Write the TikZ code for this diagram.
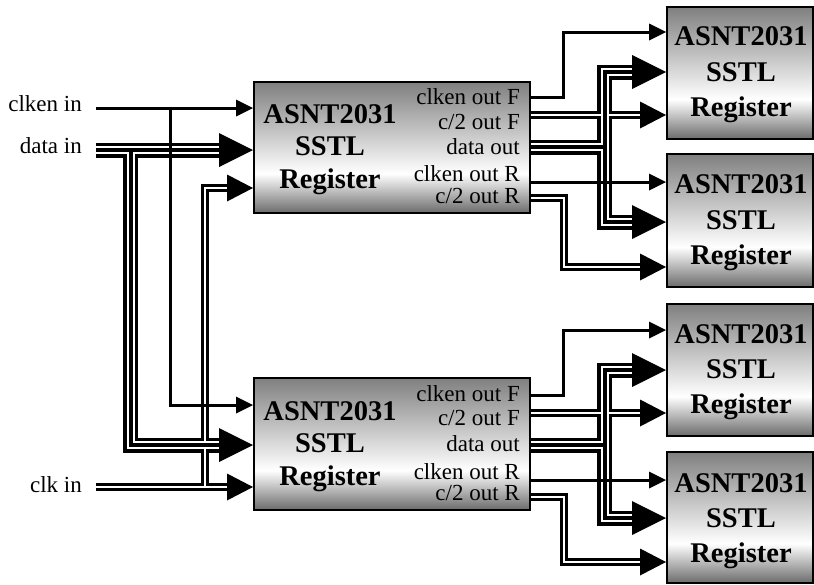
\documentclass[tikz,border=0pt]{standalone}
\usepackage{fontspec}
\setmainfont{Liberation Serif}
\usetikzlibrary{arrows.meta}
\definecolor{shtop}{gray}{0.5}
\definecolor{shbot}{gray}{0.42}
\pgfdeclareverticalshading{blkshade}{100bp}{color(0bp)=(shbot); color(25bp)=(shbot); color(40bp)=(white); color(75bp)=(shtop); color(100bp)=(shtop)}
\pgfdeclarelayer{wl}
\pgfdeclarelayer{cl}
\pgfdeclarelayer{tl}
\pgfsetlayers{main,wl,cl,tl}
\newcommand\tribus[3]{%
  \draw[triB,#1] #3;
  \begin{pgfonlayer}{wl}\draw[triW,#2] #3;\end{pgfonlayer}
  \begin{pgfonlayer}{cl}\draw[triC,#2] #3;\end{pgfonlayer}}
\newcommand\dblbus[3]{%
  \draw[dblB,#1] #3;
  \begin{pgfonlayer}{wl}\draw[dblW,#2] #3;\end{pgfonlayer}}
\newcommand\thinwire[2]{%
  \begin{pgfonlayer}{tl}\draw[thinw,#1] #2;\end{pgfonlayer}}
\begin{document}
\begin{tikzpicture}[x=1pt,y=-1pt,
  blk/.style={draw=black, line width=2pt, shading=blkshade, rectangle, inner sep=0pt},
  ttl/.style={font=\bfseries\fontsize{28.5}{30}\selectfont, anchor=base, inner sep=0pt},
  lbl/.style={font=\fontsize{23}{26}\selectfont, anchor=base east, inner sep=0pt},
  thinw/.style={line width=3pt, line join=miter},
  triB/.style={line width=15pt, line join=miter},
  triW/.style={line width=8pt, white, line join=miter},
  triC/.style={line width=4pt, line join=miter},
  dblB/.style={line width=8pt, line join=miter},
  dblW/.style={line width=2pt, white, line join=miter},
  bA/.style={-{Triangle[length=34pt,width=34pt,line width=0pt]}},
  bI/.style={shorten >=34pt},
  mA/.style={-{Triangle[length=26pt,width=27pt,line width=0pt]}},
  mI/.style={shorten >=26pt},
  sA/.style={-{Triangle[length=17pt,width=17pt,line width=0pt]}}
]
\useasboundingbox (0,0) rectangle (814,584);

% blocks
\node[blk, minimum width=276pt, minimum height=131pt] (m1) at (392,147.5) {};
\node[blk, minimum width=276pt, minimum height=132pt] (m2) at (392,444) {};
\node[blk, minimum width=146pt, minimum height=132pt] (r1) at (740,73) {};
\node[blk, minimum width=146pt, minimum height=133pt] (r2) at (740,220.5) {};
\node[blk, minimum width=146pt, minimum height=132pt] (r3) at (740,370) {};
\node[blk, minimum width=146pt, minimum height=131pt] (r4) at (740,517.5) {};

% titles
\node[ttl] (m1a) at (330,123) {ASNT2031};
\node[ttl] (m1b) at (330,155) {SSTL};
\node[ttl] (m1c) at (330,188) {Register};
\node[ttl] (m2a) at (330,420) {ASNT2031};
\node[ttl] (m2b) at (330,452) {SSTL};
\node[ttl] (m2c) at (330,485) {Register};
\node[ttl] (r1a) at (741,45) {ASNT2031};
\node[ttl] (r1b) at (741,81) {SSTL};
\node[ttl] (r1c) at (741,116) {Register};
\node[ttl] (r2a) at (741,193) {ASNT2031};
\node[ttl] (r2b) at (741,229) {SSTL};
\node[ttl] (r2c) at (741,264) {Register};
\node[ttl] (r3a) at (741,343) {ASNT2031};
\node[ttl] (r3b) at (741,378) {SSTL};
\node[ttl] (r3c) at (741,413) {Register};
\node[ttl] (r4a) at (741,492) {ASNT2031};
\node[ttl] (r4b) at (741,527) {SSTL};
\node[ttl] (r4c) at (741,562) {Register};

% port labels
\node[lbl] (p11) at (520,104) {clken out F};
\node[lbl] (p12) at (520,129) {c/2 out F};
\node[lbl] (p13) at (520,154) {data out};
\node[lbl] (p14) at (520,181) {clken out R};
\node[lbl] (p15) at (520,203) {c/2 out R};
\node[lbl] (p21) at (520,401) {clken out F};
\node[lbl] (p22) at (520,425) {c/2 out F};
\node[lbl] (p23) at (520,451) {data out};
\node[lbl] (p24) at (520,479) {clken out R};
\node[lbl] (p25) at (520,500) {c/2 out R};

% input labels
\node[lbl] (lc) at (82,111) {clken in};
\node[lbl] (ld) at (82,153) {data in};
\node[lbl] (lk) at (82,492) {clk in};

% coordinates
\coordinate (cS) at (96,108);
\coordinate (cJ) at (170,108);
\coordinate (cB) at (170,405);
\coordinate (dS) at (96,150);
\coordinate (dJ) at (130.5,150);
\coordinate (dB) at (130.5,445);
\coordinate (kS) at (96,487);
\coordinate (kJ) at (205,487);
\coordinate (kT) at (205,188);

\coordinate (t1a) at (563,97);
\coordinate (t1b) at (563,32);
\coordinate (t2) at (600,115);
\coordinate (t3) at (604.5,147);
\coordinate (t3a) at (604.5,72);
\coordinate (t3b) at (604.5,222);
\coordinate (t4) at (600,182);
\coordinate (t5a) at (564,198);
\coordinate (t5b) at (564,267);

\coordinate (u1a) at (563,395);
\coordinate (u1b) at (563,330);
\coordinate (u2) at (600,413);
\coordinate (u3) at (604.5,445);
\coordinate (u3a) at (604.5,370);
\coordinate (u3b) at (604.5,518);
\coordinate (u4) at (600,480);
\coordinate (u5a) at (564,497);
\coordinate (u5b) at (564,562);

% inputs
\thinwire{sA}{(cS) -- (cS -| m1.west)}
\thinwire{sA}{(cJ) -- (cB) -- (cB -| m2.west)}
\tribus{bA}{bI}{(dS) -- (dS -| m1.west)}
\tribus{bA}{bI}{(dJ) -- (dB) -- (dB -| m2.west)}
\dblbus{mA}{mI}{(kS) -- (kS -| m2.west)}
\dblbus{mA}{mI}{(kJ) -- (kT) -- (kT -| m1.west)}

% outputs of m1
\thinwire{sA}{(t1a -| m1.east) -- (t1a) -- (t1b) -- (t1b -| r1.west)}
\dblbus{mA}{mI}{(t2 -| m1.east) -- (t2 -| r1.west)}
\tribus{}{}{(t3 -| m1.east) -- (t3)}
\tribus{bA}{bI}{(t3) -- (t3a) -- (t3a -| r1.west)}
\tribus{bA}{bI}{(t3) -- (t3b) -- (t3b -| r2.west)}
\thinwire{sA}{(t4 -| m1.east) -- (t4 -| r2.west)}
\dblbus{mA}{mI}{(t5a -| m1.east) -- (t5a) -- (t5b) -- (t5b -| r2.west)}

% outputs of m2
\thinwire{sA}{(u1a -| m2.east) -- (u1a) -- (u1b) -- (u1b -| r3.west)}
\dblbus{mA}{mI}{(u2 -| m2.east) -- (u2 -| r3.west)}
\tribus{}{}{(u3 -| m2.east) -- (u3)}
\tribus{bA}{bI}{(u3) -- (u3a) -- (u3a -| r3.west)}
\tribus{bA}{bI}{(u3) -- (u3b) -- (u3b -| r4.west)}
\thinwire{sA}{(u4 -| m2.east) -- (u4 -| r4.west)}
\dblbus{mA}{mI}{(u5a -| m2.east) -- (u5a) -- (u5b) -- (u5b -| r4.west)}
\end{tikzpicture}
\end{document}
